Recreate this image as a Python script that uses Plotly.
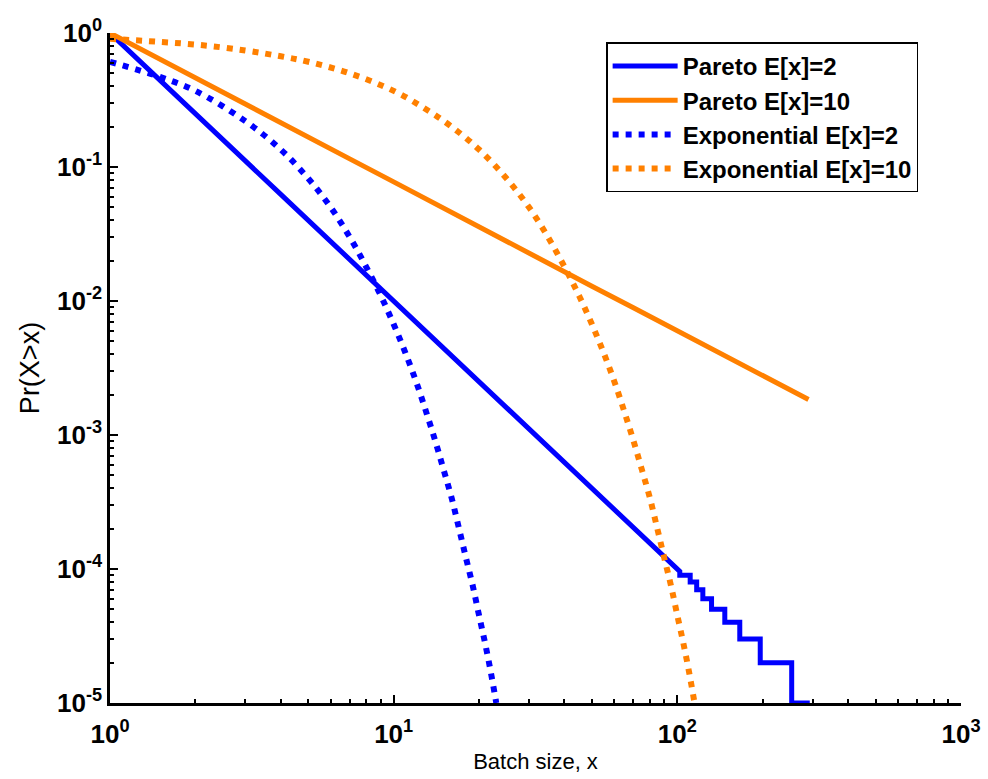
import plotly.graph_objects as go

# ---- data ----
# Pareto E[x]=2 : smooth part, then empirical step tail (jumps of 1e-5)
pareto2_x = [1, 1.5, 2, 3, 4, 5, 7, 10, 15, 20, 30, 40, 50, 70, 90, 102,
             102, 111, 111, 117, 117, 123, 123, 132, 132, 147, 147, 166, 166,
             196, 196, 253, 253, 293]
pareto2_y = [1.0, 0.44, 0.25, 0.111, 0.0625, 0.040, 0.0204, 0.0101, 0.0045,
             0.0025, 0.00112, 0.00063, 0.00040, 0.000205, 0.000124, 0.000096,
             9e-5, 9e-5, 8e-5, 8e-5, 7e-5, 7e-5, 6e-5, 6e-5, 5e-5, 5e-5, 4e-5,
             4e-5, 3e-5, 3e-5, 2e-5, 2e-5, 1e-5, 1e-5]

pareto10_x = [1, 1.5, 2, 3, 5, 7, 10, 15, 20, 30, 40, 50, 70, 100, 150, 200, 290]
pareto10_y = [1.0, 0.64, 0.463, 0.295, 0.167, 0.115, 0.0774, 0.049, 0.0359,
              0.0228, 0.0166, 0.0129, 0.0089, 0.0060, 0.0038, 0.0028, 0.00184]

exp2_x = [1, 1.5, 2, 3, 4, 5, 6, 7, 8, 9, 10, 11, 12, 13, 14, 15, 16, 17,
          18, 19, 20, 21, 22, 23]
exp2_y = [0.61, 0.47, 0.37, 0.22, 0.135, 0.082, 0.050, 0.030, 0.018, 0.011,
          0.0067, 0.0041, 0.0025, 0.0015, 0.00091, 0.00055, 0.00034, 0.00020,
          0.00012, 0.000075, 0.000045, 0.000028, 0.000017, 0.000010]

exp10_x = [1, 2, 3, 4, 5, 7, 10, 13, 16, 20, 25, 30, 35, 40, 45, 50, 55, 60,
           65, 70, 75, 80, 85, 90, 95, 100, 105, 110, 115]
exp10_y = [0.905, 0.82, 0.74, 0.67, 0.61, 0.50, 0.37, 0.27, 0.20, 0.135,
           0.082, 0.050, 0.030, 0.018, 0.011, 0.0067, 0.0041, 0.0025, 0.0015,
           0.00091, 0.00055, 0.00034, 0.00020, 0.00012, 0.000075, 0.000045,
           0.000028, 0.000017, 0.000010]

series_names = ["Pareto E[x]=2", "Pareto E[x]=10",
                "Exponential E[x]=2", "Exponential E[x]=10"]

x_tickvals = [1, 10, 100, 1000]
x_ticktext = ["10<sup>0</sup>", "10<sup>1</sup>", "10<sup>2</sup>", "10<sup>3</sup>"]
y_tickvals = [1e-5, 1e-4, 1e-3, 1e-2, 1e-1, 1]
y_ticktext = ["10<sup>-5</sup>", "10<sup>-4</sup>", "10<sup>-3</sup>",
              "10<sup>-2</sup>", "10<sup>-1</sup>", "10<sup>0</sup>"]

BLUE = "#0000ff"
ORANGE = "#ff8000"
FONT = "Liberation Sans, Arial, Helvetica, sans-serif"

fig = go.Figure()
fig.add_trace(go.Scatter(x=pareto2_x, y=pareto2_y, mode="lines", name=series_names[0],
                         line=dict(color=BLUE, width=5)))
fig.add_trace(go.Scatter(x=pareto10_x, y=pareto10_y, mode="lines", name=series_names[1],
                         line=dict(color=ORANGE, width=5)))
fig.add_trace(go.Scatter(x=exp2_x, y=exp2_y, mode="lines", name=series_names[2],
                         line=dict(color=BLUE, width=6, dash="6px,7px", shape="spline")))
fig.add_trace(go.Scatter(x=exp10_x, y=exp10_y, mode="lines", name=series_names[3],
                         line=dict(color=ORANGE, width=6, dash="6px,7px", shape="spline")))

axis_common = dict(
    type="log", showgrid=False, zeroline=False, showline=True, automargin=False,
    linecolor="black", linewidth=2.5, mirror=False,
    ticks="inside", ticklen=8, tickwidth=2, tickcolor="black",
    minor=dict(ticks="inside", ticklen=4, tickwidth=1.5, tickcolor="black",
               dtick="D1", showgrid=False),
    tickfont=dict(family=FONT, size=26, color="black", weight="bold"),
)

fig.update_xaxes(**axis_common, range=[0, 3], tickvals=x_tickvals, ticktext=x_ticktext,
                 title=dict(text="Batch size, x", font=dict(family=FONT, size=22, color="black"),
                            standoff=6),
                 ticklabelstandoff=6)
fig.update_yaxes(**axis_common, range=[-5, 0], tickvals=y_tickvals, ticktext=y_ticktext,
                 title=dict(text="Pr(X>x)", font=dict(family=FONT, size=27, color="black"),
                            standoff=10),
                 ticklabelstandoff=0)

fig.update_layout(
    width=988, height=779,
    margin=dict(l=110, r=27, t=33, b=76),
    plot_bgcolor="white", paper_bgcolor="white",
    legend=dict(x=0.583, y=0.986, xanchor="left", yanchor="top",
                bgcolor="white", bordercolor="black", borderwidth=1.5,
                font=dict(family=FONT, size=24, color="black", weight="bold"),
                itemwidth=65, tracegroupgap=0),
    showlegend=True,
)

fig.write_html("out.html")
